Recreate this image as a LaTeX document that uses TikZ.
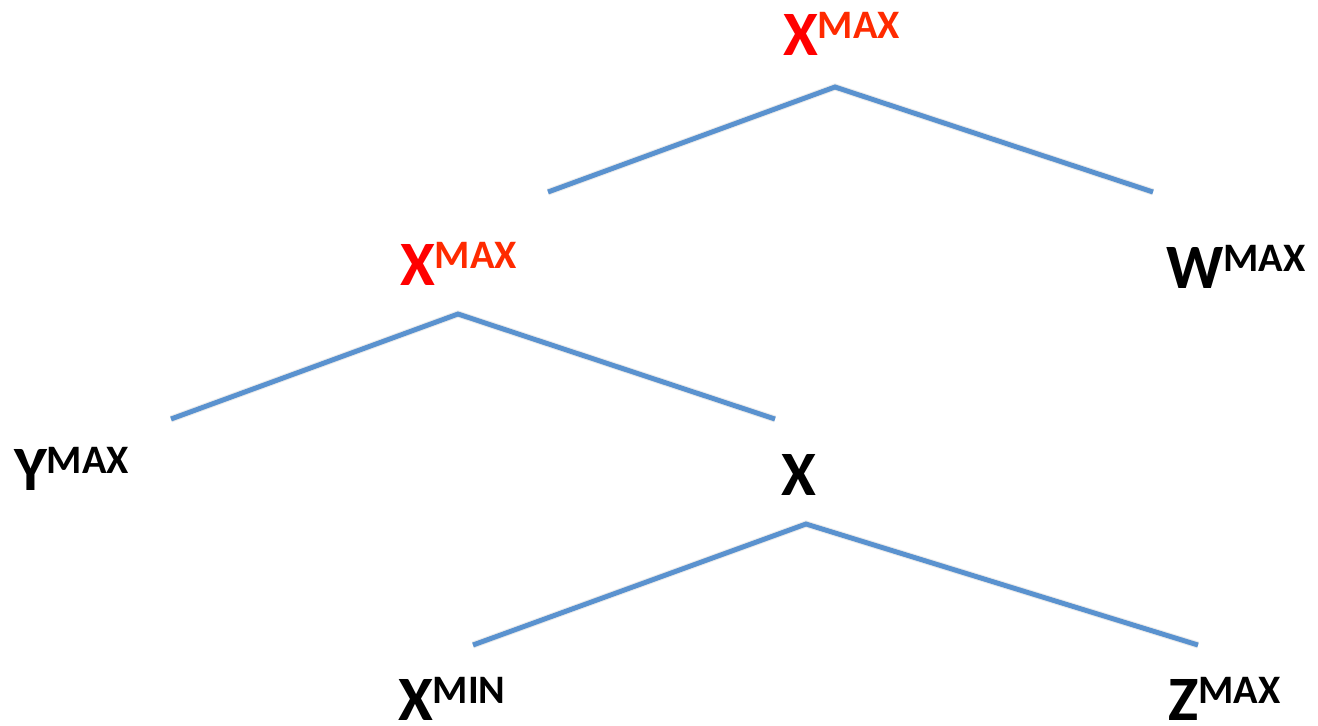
\documentclass[tikz,border=0pt]{standalone}
\usepackage{fontspec}
\setmainfont{Carlito}
\definecolor{lineblue}{HTML}{5A92CF}
\definecolor{xred}{HTML}{FF0000}
\definecolor{supred}{HTML}{FF2A00}
\newcommand{\lbl}[2]{{\fontsize{36}{36}\selectfont\bfseries #1}\raisebox{9.5pt}{\fontsize{23}{23}\selectfont\bfseries #2}}
\begin{document}
\begin{tikzpicture}[x=0.02cm,y=-0.02cm,
  branch/.style={draw=lineblue,line width=2.8pt},
  shade/.style={draw=black,opacity=0.08,line width=4pt},
  lab/.style={anchor=base west,inner sep=0pt,outer sep=0pt}]
\useasboundingbox (0,0) rectangle (1318,725);
% labels
\node[lab] (r) at (783,55) {\lbl{\color{xred}X}{\color{supred}MAX}};
\node[lab] (m) at (400,285) {\lbl{\color{xred}X}{\color{supred}MAX}};
\node[lab] (w) at (1166,288) {\lbl{W}{MAX}};
\node[lab] (y) at (14,490) {\lbl{Y}{MAX}};
\node[lab] (x) at (781,495) {{\fontsize{36}{36}\selectfont\bfseries X}};
\node[lab] (xmin) at (398,720) {\lbl{X}{MIN}};
\node[lab] (z) at (1168,720) {\lbl{Z}{MAX}};
% branch points
\coordinate (rt) at (835,87);
\coordinate (rl) at (548,192);
\coordinate (rr) at (1153,192);
\coordinate (mt) at (458,314);
\coordinate (ml) at (171,419);
\coordinate (mr) at (775,419);
\coordinate (xt) at (806,524);
\coordinate (xl) at (473,645);
\coordinate (xr) at (1198,645);
\begin{scope}[yshift=-0.07cm]
\draw[shade] (rl) -- (rt) -- (rr);
\draw[shade] (ml) -- (mt) -- (mr);
\draw[shade] (xl) -- (xt) -- (xr);
\end{scope}
\draw[branch] (rl) -- (rt) -- (rr);
\draw[branch] (ml) -- (mt) -- (mr);
\draw[branch] (xl) -- (xt) -- (xr);
\end{tikzpicture}
\end{document}
